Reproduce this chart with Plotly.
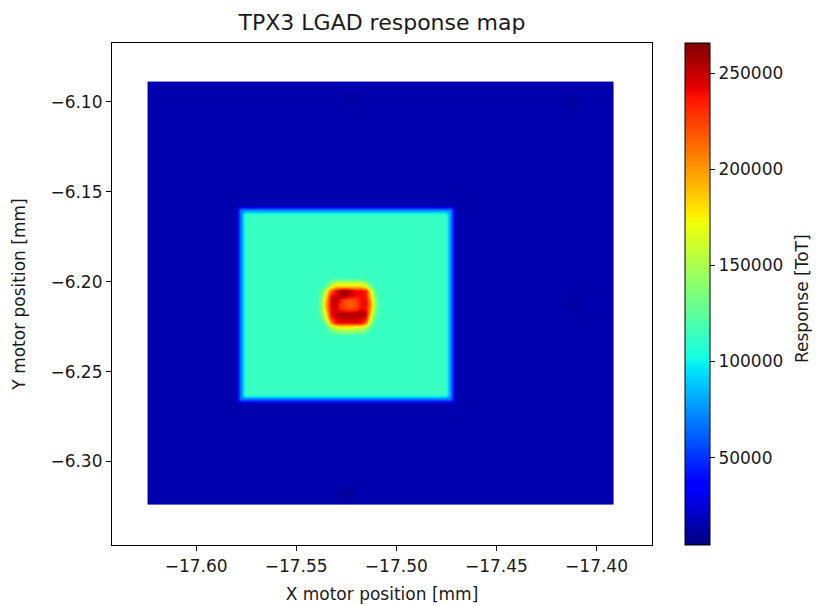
import numpy as np
import plotly.graph_objects as go

# ---------------- data ----------------
# scan grid (cell centres)
x_start, x_step, n_x = -17.623, 0.0025, 93
y_start, y_step, n_y = -6.3225, 0.0025, 94

background_level = 15000          # dark blue field
square_level = 113000             # cyan-green square
square_ring_levels = [70000]      # blurred border ring of the square
square_x = [-17.5767, -17.4732]   # core square extent in x [mm]
square_y = [-6.2635, -6.1615]     # core square extent in y [mm]

# hot spot, values in thousands of ToT, rows top->bottom, cols left->right
spot_left_x = -17.5392
spot_top_y = -6.1983
spot_k = [
    [113, 113, 130, 150, 150, 150, 150, 150, 150, 130, 113, 113],
    [113, 125, 165, 190, 190, 190, 190, 190, 190, 175, 130, 113],
    [120, 160, 215, 240, 258, 262, 250, 240, 240, 235, 170, 120],
    [125, 175, 238, 245, 258, 255, 245, 240, 240, 238, 180, 125],
    [130, 190, 240, 255, 235, 222, 220, 225, 238, 240, 195, 130],
    [130, 195, 242, 250, 228, 218, 215, 222, 238, 240, 200, 135],
    [130, 190, 240, 245, 232, 225, 222, 228, 240, 238, 195, 130],
    [125, 175, 240, 252, 258, 256, 255, 256, 258, 250, 180, 125],
    [120, 160, 230, 245, 250, 252, 250, 250, 248, 240, 165, 120],
    [113, 135, 200, 235, 240, 240, 240, 240, 238, 215, 140, 113],
    [113, 120, 150, 170, 175, 175, 175, 172, 170, 155, 125, 113],
    [113, 113, 125, 135, 140, 140, 140, 138, 135, 125, 113, 113],
]

# faint darker patches in the background
dark_x = [-17.5232, -17.4132, -17.4132, -17.5257]
dark_y = [-6.0991, -6.0991, -6.2133, -6.3176]
dark_levels = [10000, 12500]      # patch centre, patch rim

z_min, z_max = 4500, 265700
x_ticks = [-17.60, -17.55, -17.50, -17.45, -17.40]
y_ticks = [-6.30, -6.25, -6.20, -6.15, -6.10]
cbar_ticks = [50000, 100000, 150000, 200000, 250000]

# ---------------- build the map ----------------
xs = x_start + x_step * np.arange(n_x)
ys = y_start + y_step * np.arange(n_y)
X, Y = np.meshgrid(xs, ys)
z = np.full((n_y, n_x), float(background_level))

for px, py in zip(dark_x, dark_y):
    ci = int(round((px - x_start) / x_step))
    ri = int(round((py - y_start) / y_step))
    for dr in (-1, 0, 1):
        for dc in (-1, 0, 1):
            r, c = ri + dr, ci + dc
            if 0 <= r < n_y and 0 <= c < n_x:
                z[r, c] = dark_levels[0] if (dr == 0 and dc == 0) else dark_levels[1]

dxo = np.maximum.reduce([square_x[0] - X, np.zeros_like(X), X - square_x[1]]) / x_step
dyo = np.maximum.reduce([square_y[0] - Y, np.zeros_like(Y), Y - square_y[1]]) / y_step
ring = np.ceil(np.maximum(dxo, dyo) - 1e-9)
z[ring == 0] = square_level
for k, lev in enumerate(square_ring_levels, start=1):
    z[ring == k] = lev

col0 = int(round((spot_left_x - (x_start - x_step / 2)) / x_step))
row_top = int(round((spot_top_y - (y_start - y_step / 2)) / y_step)) - 1
for i, row in enumerate(spot_k):
    for j, v in enumerate(row):
        z[row_top - i, col0 + j] = v * 1000.0

# matplotlib 'jet' colormap as a plotly colorscale
jet_r = [(0, 0), (0.35, 0), (0.66, 1), (0.89, 1), (1, 0.5)]
jet_g = [(0, 0), (0.125, 0), (0.375, 1), (0.64, 1), (0.91, 0), (1, 0)]
jet_b = [(0, 0.5), (0.11, 1), (0.34, 1), (0.65, 0), (1, 0)]
stops = sorted(set([p for p, _ in jet_r + jet_g + jet_b]))
def _interp(seg, t):
    return float(np.interp(t, [p for p, _ in seg], [v for _, v in seg]))
jet = [[t, "rgb(%d,%d,%d)" % (round(255 * _interp(jet_r, t)),
                               round(255 * _interp(jet_g, t)),
                               round(255 * _interp(jet_b, t)))] for t in stops]

FONT = "DejaVu Sans"
TXT = "#1a1a1a"

# figure is offset by the page's 8px body margin
W, H = 812, 598
L, R, T, B = 104, 168, 35, 61
PW = W - L - R

fig = go.Figure(go.Heatmap(
    x=xs, y=ys, z=z, zmin=z_min, zmax=z_max, colorscale=jet,
    zsmooth="best",
    colorbar=dict(
        thickness=25, lenmode="pixels", len=502,
        x=(677 - L) / PW, xanchor="left", xpad=0,
        y=0.5, yanchor="middle", ypad=0,
        outlinecolor="black", outlinewidth=1,
        tickvals=cbar_ticks, tickformat="d",
        ticks="outside", ticklen=5, tickwidth=1.2,
        tickcolor="black", tickfont=dict(family=FONT, size=17, color=TXT),
    ),
))

axis_common = dict(showline=True, linecolor="black", linewidth=1.2, mirror=True,
                   ticks="outside", ticklen=5, tickwidth=1.2, tickcolor="black",
                   showgrid=False, zeroline=False, tickformat=".2f",
                   automargin=False,
                   tickfont=dict(family=FONT, size=17, color=TXT))

fig.update_layout(
    width=W, height=H,
    margin=dict(l=L, r=R, t=T, b=B, autoexpand=False),
    paper_bgcolor="white", plot_bgcolor="white",
    font=dict(family=FONT, size=17, color=TXT),
    title=dict(text="TPX3 LGAD response map", x=(L + PW / 2) / W, xanchor="center",
               y=1 - 14 / H, yanchor="middle", yref="container",
               font=dict(family=FONT, size=22, color=TXT)),
    xaxis=dict(range=[-17.6420, -17.3723], tickvals=x_ticks,
               title=dict(text="X motor position [mm]", standoff=13,
                          font=dict(family=FONT, size=17, color=TXT)),
               **axis_common),
    yaxis=dict(range=[-6.3464, -6.0673], tickvals=y_ticks,
               title=dict(text="Y motor position [mm]", standoff=20,
                          font=dict(family=FONT, size=17, color=TXT)),
               **axis_common),
    annotations=[dict(text="Response [ToT]", textangle=-90, showarrow=False,
                      xref="paper", yref="paper", x=(794 - L) / PW, y=0.49,
                      xanchor="center", yanchor="middle",
                      font=dict(family=FONT, size=17, color=TXT))],
)

fig.write_html("out.html")
